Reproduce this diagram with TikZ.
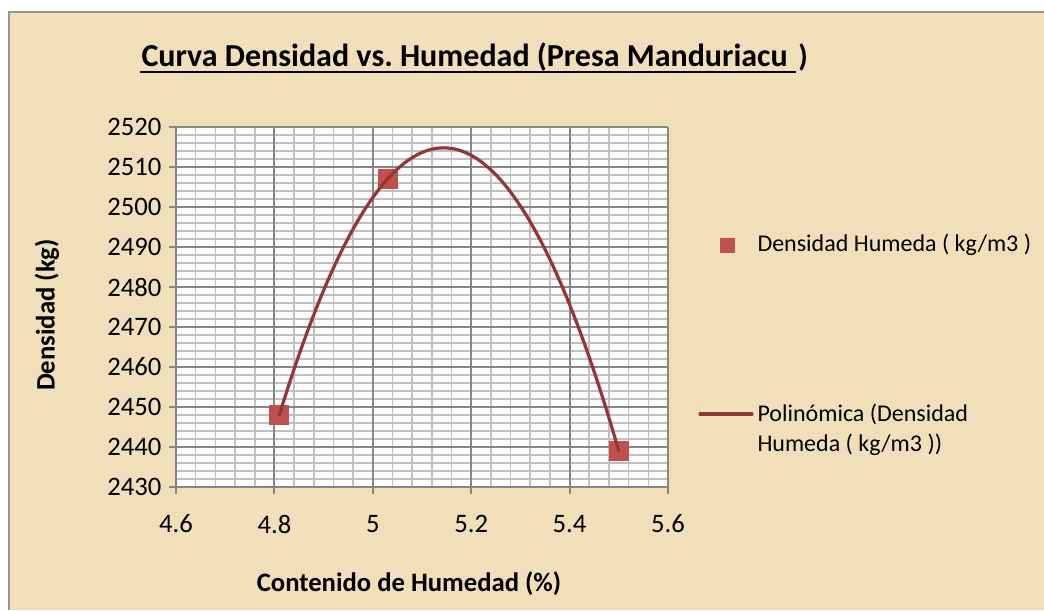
\documentclass[tikz,border=0pt]{standalone}
\usepackage{fontspec}
\setmainfont{Carlito}

\tikzset{every picture/.style={line width=0.75pt}}
\tikzset{
  minorgrid/.style={color={rgb, 255:red, 192; green, 192; blue, 192 }, line width=1.2pt},
  majorgrid/.style={color={rgb, 255:red, 134; green, 134; blue, 134 }, line width=1.4pt},
  ticklabel/.style={inner sep=0.75pt, font=\fontsize{20}{24}\selectfont},
  axistitle/.style={inner sep=0.75pt, font=\fontsize{20}{24}\selectfont\bfseries},
  legendtext/.style={inner sep=0.75pt, align=left, font=\fontsize{18}{22.5}\selectfont},
  marker/.style={rectangle, inner sep=0pt, minimum size=15pt, fill={rgb, 255:red, 192; green, 80; blue, 77 }},
  fitline/.style={color={rgb, 255:red, 150; green, 54; blue, 52 }, line width=2.4pt, line cap=round}
}

\begin{document}
\begin{tikzpicture}[x=0.75pt,y=0.75pt,yscale=-1,xscale=1]
\useasboundingbox (0,0) rectangle (1044,610);

% Chart area
\fill [color={rgb, 255:red, 240; green, 223; blue, 184 }] (9,12) rectangle (1044,610);
\draw [color={rgb, 255:red, 150; green, 150; blue, 150 }, line width=1.5pt] (9,610) -- (9,12) -- (1044,12);

% Plot area
\fill [white] (176,127) rectangle (668,487);
\foreach \i in {0,...,25} \draw [minorgrid] ({176+\i*19.68},127) -- ({176+\i*19.68},487);
\foreach \j in {0,...,45} \draw [minorgrid] (176,{127+\j*8}) -- (668,{127+\j*8});
\foreach \i in {0,...,5} \draw [majorgrid] ({176+\i*98.4},127) -- ({176+\i*98.4},494);
\foreach \j in {0,...,9} \draw [majorgrid] (169,{127+\j*40}) -- (668,{127+\j*40});

% Tick labels
\foreach \v in {2430,2440,...,2520}
  \draw (163,{487-(\v-2430)*4}) node (ylab\v) [anchor=east][ticklabel] {\v};
\foreach \i/\t in {0/4.6,1/4.8,2/5,3/5.2,4/5.4,5/5.6}
  \draw ({176+\i*98.4},524) node (xlab\i) [ticklabel] {\t};

% Data points
\node (pt1) [marker] at (279.3,415) {};
\node (pt2) [marker] at (387.6,179) {};
\node (pt3) [marker] at (618.8,451) {};

% Polynomial trend line
\draw [fitline] plot [domain=4.81:5.5, samples=90, smooth]
  ({176+(\x-4.6)*492}, {487-4*(18+268.18*(\x-4.81)-598.35*(\x-4.81)*(\x-5.03))});

% Text Node
\draw (140,57) node (title) [anchor=west][inner sep=0.75pt] [font=\fontsize{24}{28}\selectfont\bfseries] {Curva Densidad vs.\ Humedad (Presa Manduriacu\kern5pt};
\draw [line width=1.5pt] ([yshift=4.5pt]title.base west) -- ([yshift=4.5pt]title.base east);
\draw ([xshift=1.5pt]title.base east) node (paren) [anchor=base west][inner sep=0pt] [font=\fontsize{23}{28}\selectfont\bfseries] {)};
% Text Node
\draw (47,315) node (ytitle) [rotate=90][axistitle] {Densidad (kg)};
% Text Node
\draw (409,584) node (xtitle) [axistitle] {Contenido de Humedad (\%)};

% Legend
\node (legsq) [marker, minimum size=11.25pt] at (727,245) {};
\draw (756,245) node (legtext1) [anchor=west][legendtext] {Densidad Humeda ( kg/m3 )};
\draw [fitline] (700,414) -- (752,414);
\draw (756,430) node (legtext2) [anchor=west][legendtext] {Polinómica (Densidad\\Humeda ( kg/m3 ))};

\end{tikzpicture}
\end{document}
